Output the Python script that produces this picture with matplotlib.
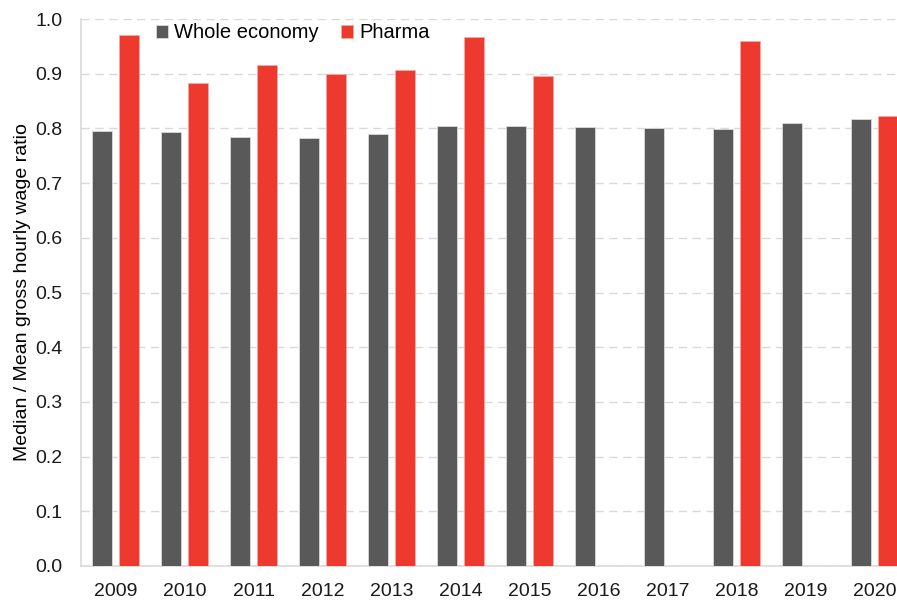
import matplotlib.pyplot as plt
import numpy as np

plt.rcParams['font.family'] = ['Liberation Sans', 'DejaVu Sans']

years = ['2009', '2010', '2011', '2012', '2013', '2014', '2015',
         '2016', '2017', '2018', '2019', '2020']
whole_economy = [0.796, 0.794, 0.785, 0.783, 0.790, 0.804, 0.805,
                 0.803, 0.801, 0.799, 0.809, 0.818]
pharma = [0.970, 0.883, 0.915, 0.900, 0.907, 0.968, 0.896,
          np.nan, np.nan, 0.960, np.nan, 0.823]

grey = '#595959'
red = '#EE3A2E'

fig = plt.figure(figsize=(8.97, 6.03), dpi=100)
# plot area runs a little past the right edge of the picture, as in the original
ax = fig.add_axes([81 / 897, 37 / 603, 828 / 897, 547 / 603])

x = np.arange(len(years))
w = 0.29
ax.bar(x - 0.19, whole_economy, w, color=grey, edgecolor='#d9d9d9',
       linewidth=0.6, label='Whole economy', zorder=3)
ax.bar(x + 0.19, pharma, w, color=red, edgecolor='#f7a9a3',
       linewidth=0.6, label='Pharma', zorder=3)

ax.set_xlim(-0.5, len(years) - 0.5)
ax.set_ylim(0, 1.0)
ax.set_yticks(np.arange(0, 1.01, 0.1))
ax.set_yticklabels([f'{v:.1f}' for v in np.arange(0, 1.01, 0.1)])
ax.set_xticks(x)
ax.set_xticklabels(years)
ax.tick_params(axis='both', labelsize=14, length=0, colors='#1a1a1a')
ax.tick_params(axis='x', pad=12)
ax.tick_params(axis='y', pad=13.5)

ax.yaxis.grid(True, color='#d9d9d9', linestyle=(0, (6, 4)), linewidth=1, zorder=0)
for s in ['top', 'right']:
    ax.spines[s].set_visible(False)
for s in ['left', 'bottom']:
    ax.spines[s].set_color('#d9d9d9')
    ax.spines[s].set_linewidth(1.2)

ax.set_ylabel('Median / Mean gross hourly wage ratio', fontsize=14, labelpad=3)

ax.legend(loc='upper left', bbox_to_anchor=(0.069, 1.025), ncol=2, frameon=False,
          fontsize=14.5, handlelength=0.6, handleheight=0.6, handletextpad=0.3,
          columnspacing=1.1)

plt.savefig('out.png', dpi=100)
